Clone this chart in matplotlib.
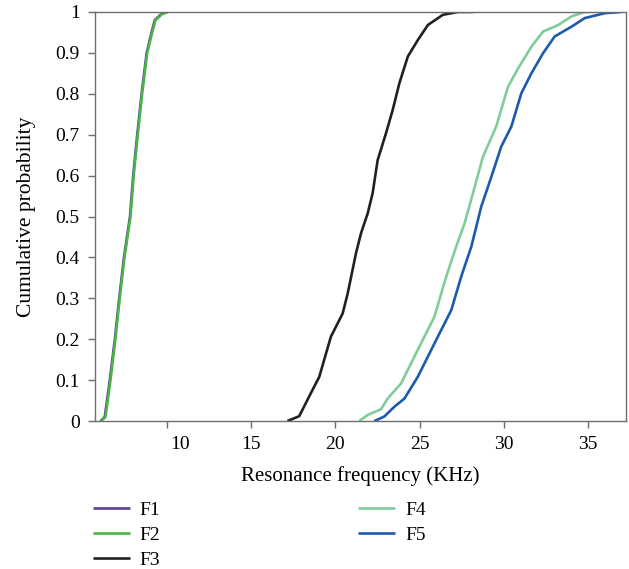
#!/usr/bin/env python3
"""Cumulative distributions of the resonance frequencies F1-F5."""

import matplotlib.pyplot as plt
from matplotlib.transforms import ScaledTranslation

# cumulative probability levels and the frequency (kHz) reached at each
F1_PROB = [0.0, 0.01, 0.1, 0.2, 0.3, 0.4, 0.5, 0.6, 0.7, 0.8, 0.9, 0.95, 0.98, 0.995, 1.0]
F1_FREQ = [6.05, 6.30, 6.60, 6.90, 7.16, 7.44, 7.80, 7.99, 8.23, 8.49, 8.79, 9.08, 9.27, 9.66, 10.0]
F2_PROB = F1_PROB
F2_FREQ = [6.08, 6.34, 6.64, 6.93, 7.19, 7.47, 7.83, 8.02, 8.26, 8.52, 8.82, 9.12, 9.31, 9.71, 10.05]

F3_PROB = [0.0, 0.012, 0.06, 0.108, 0.206, 0.263, 0.312, 0.41, 0.459, 0.508, 0.557, 0.638,
           0.703, 0.76, 0.826, 0.891, 0.931, 0.968, 0.993, 1.0, 1.0]
F3_FREQ = [17.15, 17.85, 18.44, 19.04, 19.73, 20.43, 20.73, 21.22, 21.52, 21.92, 22.21, 22.51,
           23.0, 23.4, 23.8, 24.3, 24.89, 25.49, 26.38, 27.27, 28.17]

F4_PROB = [0.0, 0.015, 0.029, 0.055, 0.092, 0.174, 0.255, 0.353, 0.426, 0.483, 0.557, 0.646,
           0.72, 0.817, 0.862, 0.915, 0.952, 0.968, 0.989, 1.0, 1.0]
F4_FREQ = [21.42, 21.92, 22.71, 23.1, 23.9, 24.89, 25.88, 26.58, 27.17, 27.67, 28.17, 28.76,
           29.55, 30.25, 30.85, 31.64, 32.33, 33.23, 34.02, 34.81, 35.4]

F5_PROB = [0.0, 0.011, 0.035, 0.055, 0.108, 0.206, 0.271, 0.353, 0.426, 0.524, 0.597, 0.671,
           0.72, 0.801, 0.85, 0.899, 0.94, 0.964, 0.985, 0.997, 1.0]
F5_FREQ = [22.31, 22.9, 23.5, 24.1, 24.89, 26.08, 26.88, 27.47, 28.07, 28.66, 29.26, 29.85,
           30.45, 31.04, 31.64, 32.33, 33.02, 34.02, 34.81, 36.0, 36.99]

SERIES = [
    ("F1", F1_FREQ, F1_PROB, "#5a3f9e"),
    ("F2", F2_FREQ, F2_PROB, "#4bb347"),
    ("F3", F3_FREQ, F3_PROB, "#231f20"),
    ("F4", F4_FREQ, F4_PROB, "#80cc9a"),
    ("F5", F5_FREQ, F5_PROB, "#1c5aae"),
]

X_TICKS = [10, 15, 20, 25, 30, 35]
Y_TICKS = [0, 0.1, 0.2, 0.3, 0.4, 0.5, 0.6, 0.7, 0.8, 0.9, 1]
Y_LABELS = ["0", "0.1", "0.2", "0.3", "0.4", "0.5", "0.6", "0.7", "0.8", "0.9", "1"]

AXIS_GRAY = "#6d6e70"

plt.rcParams["font.family"] = ["Liberation Serif", "DejaVu Serif"]

fig = plt.figure(figsize=(6.29, 5.69), dpi=100)
ax = fig.add_axes([0.151, 0.26, 0.844, 0.719])

for name, freq, prob, color in SERIES:
    ax.plot(freq, prob, color=color, linewidth=1.9, label=name, solid_capstyle="butt")

ax.set_xlim(5.72, 37.25)
ax.set_ylim(0, 1)
ax.set_xticks(X_TICKS)
ax.set_yticks(Y_TICKS)
ax.set_yticklabels(Y_LABELS)
ax.tick_params(axis="both", direction="out", length=5, width=1, color=AXIS_GRAY,
               labelsize=14, pad=6)
for spine in ax.spines.values():
    spine.set_color(AXIS_GRAY)
    spine.set_linewidth(1)

# the first category label sits a little right of its tick
first = ax.get_xticklabels()[0]
first.set_transform(first.get_transform() + ScaledTranslation(0.13, 0, fig.dpi_scale_trans))

ax.set_xlabel("Resonance frequency (KHz)", fontsize=15, labelpad=9)
ax.set_ylabel("Cumulative probability", fontsize=15.5, labelpad=14)

fig.legend(loc="upper left", bbox_to_anchor=(0.135, 0.132), ncol=2, frameon=False,
           fontsize=14, handlelength=1.9, handletextpad=0.5, columnspacing=10.2,
           labelspacing=0.38, borderaxespad=0)

fig.savefig("out.png", dpi=100)
